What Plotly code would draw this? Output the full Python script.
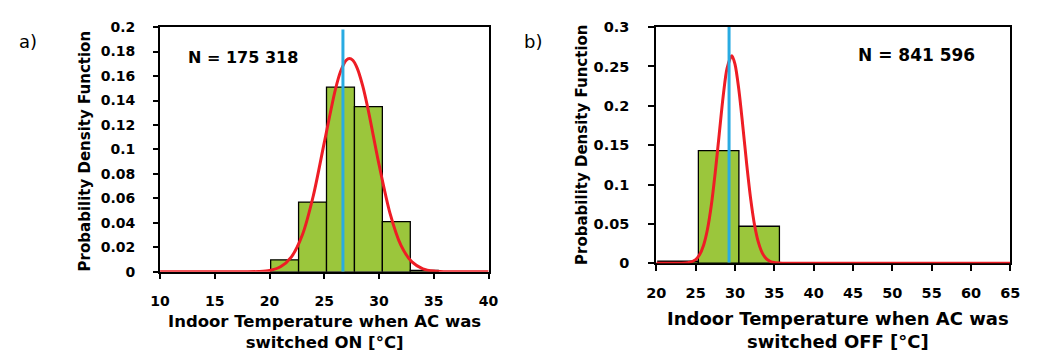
import plotly.graph_objects as go

# ---------------- data ----------------
# Panel a: AC switched ON
bin_edges_a = [20.1, 22.65, 25.2, 27.75, 30.3, 32.85, 35.4]
pdf_a = [0.0098, 0.057, 0.151, 0.135, 0.041, 0.0012]
curve_a_x = [10, 12, 14, 16, 17, 18, 19, 20, 21, 22, 23, 24, 25, 26, 26.5, 27, 27.3,
             27.6, 28, 28.5, 29, 30, 31, 32, 33, 34, 35, 36, 37, 38, 40]
curve_a_y = [0, 0, 0, 0, 0, 0.00005, 0.0003, 0.0011, 0.0041, 0.0123, 0.0303, 0.0624,
             0.1058, 0.1486, 0.1641, 0.1729, 0.1744, 0.1729, 0.1665, 0.1522, 0.1327,
             0.0875, 0.0478, 0.0216, 0.0081, 0.0025, 0.0006, 0.0001, 0, 0, 0]
mean_a = 26.7
n_label_a = "N = 175 318"
xticks_a = [10, 15, 20, 25, 30, 35, 40]
yticks_a = [0, 0.02, 0.04, 0.06, 0.08, 0.1, 0.12, 0.14, 0.16, 0.18, 0.2]
yticktext_a = ["0", "0.02", "0.04", "0.06", "0.08", "0.1", "0.12", "0.14", "0.16", "0.18", "0.2"]

# Panel b: AC switched OFF
bin_edges_b = [20.2, 25.35, 30.5, 35.65]
pdf_b = [0.0025, 0.143, 0.047]
curve_b_x = [20, 22, 23, 24, 25, 25.5, 26, 26.5, 27, 27.5, 28, 28.5, 29, 29.6, 30, 30.5,
             31, 31.5, 32, 32.5, 33, 33.5, 34, 34.5, 35, 36, 37, 40, 50, 65]
curve_b_y = [0, 0, 0, 0.0006, 0.0046, 0.0107, 0.0225, 0.0428, 0.0739, 0.116, 0.164,
             0.212, 0.248, 0.2636, 0.253, 0.220, 0.174, 0.125, 0.0815, 0.048, 0.0258,
             0.0125, 0.0055, 0.0022, 0.0008, 0.0001, 0, 0, 0, 0]
mean_b = 29.25
n_label_b = "N = 841 596"
xticks_b = [20, 25, 30, 35, 40, 45, 50, 55, 60, 65]
yticks_b = [0, 0.05, 0.1, 0.15, 0.2, 0.25, 0.3]
yticktext_b = ["0", "0.05", "0.1", "0.15", "0.2", "0.25", "0.3"]

xtitle_a = "Indoor Temperature when AC was<br>switched ON [°C]"
xtitle_b = "Indoor Temperature when AC was<br>switched OFF [°C]"
ytitle = "Probability Density Function"

# ---------------- styling ----------------
W, H = 1037, 363
GREEN = "#9BC63C"
RED = "#EE1D25"
BLUE = "#29ABE2"
FONT = "DejaVu Sans"


def fx(p):
    return p / W


def fy(p):
    return 1 - p / H


def centers(edges):
    return [(edges[i] + edges[i + 1]) / 2 for i in range(len(edges) - 1)]


def widths(edges):
    return [edges[i + 1] - edges[i] for i in range(len(edges) - 1)]


fig = go.Figure()
fig.add_trace(go.Bar(x=centers(bin_edges_a), y=pdf_a, width=widths(bin_edges_a),
                     marker=dict(color=GREEN, line=dict(color="black", width=1.3)),
                     xaxis="x", yaxis="y"))
fig.add_trace(go.Scatter(x=curve_a_x, y=curve_a_y, mode="lines",
                         line=dict(color=RED, width=3, shape="spline", smoothing=0.8),
                         cliponaxis=False, xaxis="x", yaxis="y"))
fig.add_trace(go.Scatter(x=[mean_a, mean_a], y=[0, 0.198], mode="lines",
                         line=dict(color=BLUE, width=3), xaxis="x", yaxis="y"))
fig.add_trace(go.Bar(x=centers(bin_edges_b), y=pdf_b, width=widths(bin_edges_b),
                     marker=dict(color=GREEN, line=dict(color="black", width=1.3)),
                     xaxis="x2", yaxis="y2"))
fig.add_trace(go.Scatter(x=curve_b_x, y=curve_b_y, mode="lines",
                         line=dict(color=RED, width=3, shape="spline", smoothing=0.8),
                         cliponaxis=False, xaxis="x2", yaxis="y2"))
fig.add_trace(go.Scatter(x=[mean_b, mean_b], y=[0.001, 0.3], mode="lines",
                         line=dict(color=BLUE, width=3), xaxis="x2", yaxis="y2"))

tickfont = dict(family=FONT, size=14, color="black", weight="bold")
base_axis = dict(showgrid=False, zeroline=False, showline=True, linecolor="black",
                 linewidth=2, mirror=True, ticks="outside", tickwidth=2,
                 tickcolor="black", tickfont=tickfont, layer="below traces")
inner = dict(ticks="inside", tickwidth=2, tickcolor="black", showticklabels=False,
             showline=False, showgrid=False, zeroline=False, tickmode="array")

dom_xa = [fx(153), fx(488)]
dom_ya = [fy(276), fy(20)]
dom_xb = [fx(659), fx(1020)]
dom_yb = [fy(267), fy(20)]

fig.update_layout(
    width=W, height=H,
    margin=dict(l=0, r=0, t=0, b=0),
    paper_bgcolor="white", plot_bgcolor="white",
    showlegend=False,
    xaxis=dict(base_axis, domain=dom_xa, anchor="y", range=[10, 40],
               tickmode="array", tickvals=xticks_a, ticklen=5, ticklabelstandoff=10),
    yaxis=dict(base_axis, domain=dom_ya, anchor="x", range=[0, 0.2],
               tickmode="array", tickvals=yticks_a, ticktext=yticktext_a, ticklen=5,
               ticklabelstandoff=15),
    xaxis2=dict(base_axis, domain=dom_xb, anchor="y2", range=[20, 65],
                tickmode="array", tickvals=xticks_b, ticklen=6, ticklabelstandoff=9,
                tickfont=dict(tickfont, size=14.5)),
    yaxis2=dict(base_axis, domain=dom_yb, anchor="x2", range=[0, 0.3],
                tickmode="array", tickvals=yticks_b, ticktext=yticktext_b, ticklen=6,
                ticklabelstandoff=16, tickfont=dict(tickfont, size=14.5)),
    # inner halves of the crossing tick marks
    xaxis3=dict(inner, overlaying="x", anchor="y", range=[10, 40],
                tickvals=xticks_a, ticklen=5),
    yaxis3=dict(inner, overlaying="y", anchor="x", range=[0, 0.2],
                tickvals=yticks_a, ticklen=5),
    xaxis4=dict(inner, overlaying="x2", anchor="y2", range=[20, 65],
                tickvals=xticks_b, ticklen=6),
    yaxis4=dict(inner, overlaying="y2", anchor="x2", range=[0, 0.3],
                tickvals=yticks_b, ticklen=6),
)

ann_common = dict(xref="paper", yref="paper", showarrow=False,
                  xanchor="center", yanchor="middle")
annotations = [
    dict(ann_common, x=fx(76.5), y=fy(150), text=ytitle, textangle=-90,
         font=dict(family=FONT, size=15, color="black", weight="bold")),
    dict(ann_common, x=fx(583), y=fy(143.5), text=ytitle, textangle=-90,
         font=dict(family=FONT, size=15, color="black", weight="bold")),
    dict(ann_common, x=fx(320.5), y=fy(339), text=xtitle_a,
         font=dict(family=FONT, size=16.5, color="black", weight="bold")),
    dict(ann_common, x=fx(844), y=fy(336.5), text=xtitle_b,
         font=dict(family=FONT, size=18, color="black", weight="bold")),
    dict(ann_common, x=fx(237.7), y=fy(51.7), text=n_label_a,
         font=dict(family=FONT, size=16, color="black", weight="bold")),
    dict(ann_common, x=fx(924), y=fy(49.3), text=n_label_b,
         font=dict(family=FONT, size=17, color="black", weight="bold")),
    dict(ann_common, x=fx(18), y=fy(35), text="a)",
         font=dict(family=FONT, size=18, color="black")),
    dict(ann_common, x=fx(533.5), y=fy(35), text="b)",
         font=dict(family=FONT, size=18, color="black")),
]
fig.update_layout(annotations=annotations)

fig.write_html("out.html")
